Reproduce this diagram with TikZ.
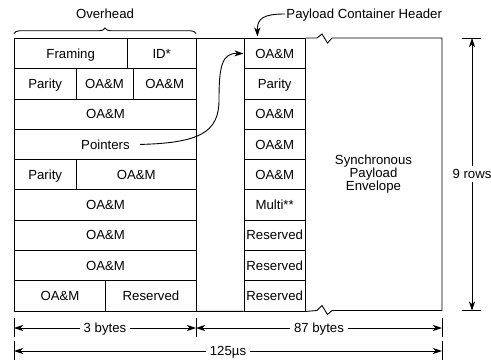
\documentclass[tikz,border=0pt]{standalone}
\usepackage{fontspec}
\setmainfont{Liberation Sans}
\usepackage{tikz}
\usetikzlibrary{arrows.meta,positioning,decorations.pathreplacing}

\tikzset{
  cell/.style={draw, anchor=north west, inner sep=0pt, minimum height=30.28pt,
    minimum width=#1, text height=9.4pt, text depth=0pt},
  label/.style={text height=9.4pt, text depth=0pt},
  dimline/.style={-{Stealth[length=9pt,width=6pt,inset=2.5pt]}},
}

\begin{document}
\begin{tikzpicture}[x=1pt, y=-1pt, line width=0.9pt,
  every node/.style={font=\fontsize{13.2}{13.4}\selectfont}]
\useasboundingbox (0,0) rectangle (491,360);

% transport overhead, 3 bytes wide
\node[cell=112.5pt] (framing) at (14,38)    {Framing};
\node[cell=69.5pt]  (id)      at (126.5,38) {ID*};
\node[cell=61.5pt]  (par2)    at (14,68.28)    {Parity};
\node[cell=57pt]    (oam2a)   at (75.5,68.28)  {OA\&M};
\node[cell=63.5pt]  (oam2b)   at (132.5,68.28) {OA\&M};
\node[cell=182pt]   (oam3)    at (14,98.56)    {OA\&M};
\node[cell=182pt]   (ptrcell) at (14,128.83)   {};
\node[label, inner xsep=10pt] (ptrtxt) at (ptrcell.center) {Pointers};
\node[cell=61.5pt]  (par5)    at (14,159.11)   {Parity};
\node[cell=120.5pt] (oam5)    at (75.5,159.11) {OA\&M};
\foreach \r in {6,7,8}
  \node[cell=182pt] (oam\r) at (14,{38+(\r-1)*30.28}) {OA\&M};
\node[cell=91pt]    (oam9)    at (14,280.22)   {OA\&M};
\node[cell=91pt]    (res9)    at (105,280.22)  {Reserved};

% payload container header column
\foreach \lbl [count=\i] in {OA\&M,Parity,OA\&M,OA\&M,OA\&M,Multi**,Reserved,Reserved,Reserved}
  \node[cell=61.5pt] (p\i) at (243.5,{38+(\i-1)*30.28}) {\lbl};

% frame with break marks
\draw (id.north east) -- (p1.north west);
\draw (res9.south east) -- (p9.south west);
\draw (p1.north east) -- (317,38) -- (322,34) -- (327.5,43) -- (332,38) -- (442,38)
  -- (442,310.5) -- (332,310.5) -- (327.5,314.5) -- (322,305.5) -- (317,310.5) -- (p9.south east);
\node[align=center] (spe) at (373.5,174) {Synchronous\\Payload\\Envelope};

% labels on top
\draw[decorate, decoration={brace, amplitude=5.5pt}] (14,33.5) -- (196,33.5);
\node[label] (ovh) at (105,14) {Overhead};
\node[label, anchor=west, inner sep=1pt] (pch) at (285,14) {Payload Container Header};
\draw[dimline] (pch.west) .. controls (264,14) and (257,18) .. ([shift={(14pt,1.5pt)}]p1.north west);
\draw[dimline] (ptrtxt.east) .. controls (200,143) and (219,132) .. (219,100)
  .. controls (219,66) and (222,53) .. (p1.west);

% 9 rows
\draw (462,38) -- (481,38);
\draw (462,310.5) -- (481,310.5);
\coordinate (rtop) at (472,38);
\coordinate (rbot) at (472,310.5);
\node[label] (rows) at (472,174) {9 rows};
\draw[dimline] (rows.north) -- (rtop);
\draw[dimline] (rows.south) -- (rbot);

% widths
\draw (14,318) -- (14,337);   % ticks
\draw (196,318) -- (196,337);
\draw (442,318) -- (442,337);
\draw (14,341) -- (14,360);
\draw (442,341) -- (442,360);
\coordinate (a0) at (14,328);
\coordinate (a1) at (196,328);
\coordinate (a2) at (442,328);
\coordinate (b0) at (14,351);
\coordinate (b1) at (442,351);
\node[label] (bytes3)  at (105,328) {3 bytes};
\node[label] (bytes87) at (319,328) {87 bytes};
\node[label] (usec)    at (228,351) {125µs};
\draw[dimline] (bytes3.west) -- (a0);
\draw[dimline] (bytes3.east) -- (a1);
\draw[dimline] (bytes87.west) -- (a1);
\draw[dimline] (bytes87.east) -- (a2);
\draw[dimline] (usec.west) -- (b0);
\draw[dimline] (usec.east) -- (b1);
\end{tikzpicture}
\end{document}
